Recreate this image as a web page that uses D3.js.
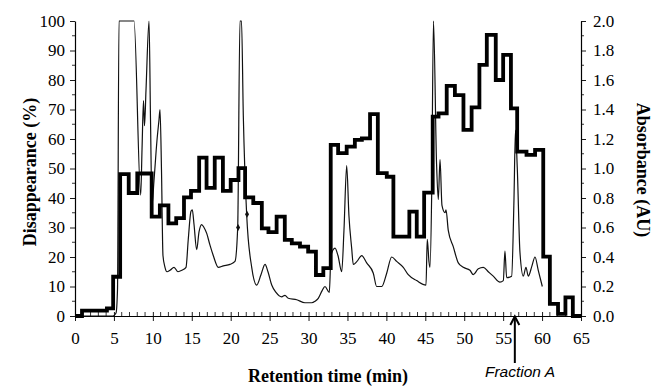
<!DOCTYPE html>
<html><head><meta charset="utf-8">
<script src="https://cdn.jsdelivr.net/npm/d3@7"></script>
<style>
html,body{margin:0;padding:0;background:#fff;}
svg{display:block;}
</style></head>
<body>
<svg id="chart" width="660" height="387"></svg>
<script>
// Fraction start times (min) and disappearance (%) — step series, left axis
const fracStart = [0,0.9,4.1,4.9,5.8,6.9,8.0,9.85,10.9,12.0,13.0,14.0,14.9,15.95,16.9,17.95,19.0,20.0,21.0,21.85,22.9,24.0,24.85,25.9,26.95,27.85,28.9,29.95,30.95,31.9,32.85,33.8,34.9,35.95,36.85,37.9,38.9,40.05,40.9,42.95,43.9,44.85,45.95,46.7,47.75,48.8,49.9,50.95,51.95,52.9,54.05,55.0,56.0,56.8,58.0,59.1,60.15,61.0,62.05,63.0,63.95];
const disappearance = [0,1.8,2.6,13.3,48.1,41.7,48.3,33.7,37.5,31.4,33.2,40.2,42.4,53.7,43.4,53.7,42.4,46.1,50.1,40.2,38.3,29.7,28.4,33.7,25.8,24.6,23.5,21.8,13.9,16.2,58.0,55.2,57.4,59.7,60.2,68.4,48.4,47.2,26.9,35.4,26.9,41.8,67.6,68.7,78.0,74.9,63.1,70.7,85.1,95.3,80.0,88.5,70.4,55.7,54.6,56.3,20.1,4.1,0.7,6.3,0];
const runEnd = 65;

// Absorbance trace (AU) — thin line, right axis
const absTime = [0,4.88,5.27,5.46,5.65,7.58,8.44,8.61,8.80,8.93,9.12,9.51,9.70,9.89,10.15,10.53,10.79,10.92,11.11,11.30,11.56,11.82,12.20,12.72,13.23,13.74,14.26,14.55,14.90,15.07,15.29,15.63,15.93,16.27,16.57,16.92,17.34,17.76,18.41,19.05,19.91,20.55,20.90,21.19,21.39,21.62,22.06,22.70,23.34,23.89,24.41,24.79,25.27,25.82,26.55,26.97,27.40,28.48,29.54,30.40,30.83,31.25,31.73,32.11,32.67,32.88,33.40,33.78,34.26,34.55,34.90,35.19,35.54,35.75,36.22,36.83,37.47,38.32,38.75,39.40,40.04,40.68,41.32,42.17,42.81,43.89,45.09,45.25,45.47,45.60,45.82,46.05,46.44,46.67,46.89,47.14,47.53,47.66,47.95,48.59,49.24,49.88,50.74,51.16,51.81,52.45,53.09,53.73,54.59,55.02,55.23,55.45,56.09,56.39,56.58,56.81,57.16,57.59,57.93,58.23,58.70,59.09,59.51,60.03];
const absorbance = [0,0,0.02,0.18,2.0,2.0,0.82,1.13,1.46,1.29,1.53,2.0,1.33,0.75,0.92,1.19,1.33,1.40,0.99,0.41,0.33,0.30,0.31,0.33,0.30,0.31,0.33,0.52,0.71,0.72,0.62,0.45,0.57,0.62,0.60,0.56,0.48,0.41,0.33,0.34,0.35,0.37,0.60,2.0,2.0,1.36,0.68,0.33,0.21,0.28,0.35,0.30,0.21,0.16,0.13,0.14,0.12,0.11,0.09,0.09,0.10,0.12,0.17,0.20,0.16,0.41,0.46,0.41,0.30,0.58,1.02,0.68,0.46,0.35,0.37,0.41,0.36,0.29,0.20,0.20,0.29,0.40,0.37,0.33,0.28,0.24,0.21,0.52,0.37,0.33,0.83,2.0,1.04,0.79,1.06,0.75,0.70,0.72,0.58,0.47,0.36,0.33,0.31,0.28,0.32,0.33,0.30,0.27,0.23,0.24,0.44,0.26,0.27,0.79,1.26,1.01,0.43,0.27,0.33,0.27,0.34,0.40,0.31,0.20];
const markTime = [20.95, 22.1];
const markAbs = [0.60, 0.69];

const xTicks = [0,5,10,15,20,25,30,35,40,45,50,55,60,65];
const leftTicks = [0,10,20,30,40,50,60,70,80,90,100];
const rightTicks = [0,0.2,0.4,0.6,0.8,1.0,1.2,1.4,1.6,1.8,2.0];
const fractionTime = 56.5;

const svg = d3.select("#chart");
const x = d3.scaleLinear().domain([0,65]).range([75,581]);
const yL = d3.scaleLinear().domain([0,100]).range([316,21]);
const yR = d3.scaleLinear().domain([0,2]).range([316,21]);
const serif = "'Liberation Serif','Times New Roman',serif";

// X axis
const gx = svg.append("g").attr("transform","translate(0,316)");
gx.call(d3.axisBottom(x).tickValues(xTicks).tickSize(5).tickSizeOuter(0).tickPadding(11).tickFormat(d3.format("d")));
gx.selectAll(".tick line").attr("y1",-4);
gx.append("g").selectAll("line").data(d3.range(0,66,1).filter(d=>d%5!==0)).join("line")
  .attr("x1",d=>x(d)).attr("x2",d=>x(d)).attr("y1",0).attr("y2",-4).attr("stroke","#000").attr("stroke-width",0.8);

// Left axis
const gl = svg.append("g").attr("transform","translate(75,0)");
gl.call(d3.axisLeft(yL).tickValues(leftTicks).tickSize(5).tickSizeOuter(0).tickPadding(5).tickFormat(d3.format("d")));
gl.append("g").selectAll("line").data(d3.range(5,100,10)).join("line")
  .attr("x1",0).attr("x2",-3).attr("y1",d=>yL(d)).attr("y2",d=>yL(d)).attr("stroke","#000").attr("stroke-width",0.8);

// Right axis
const gr = svg.append("g").attr("transform","translate(581,0)");
gr.call(d3.axisRight(yR).tickValues(rightTicks).tickSize(5).tickSizeOuter(0).tickPadding(7).tickFormat(d3.format(".1f")));
gr.append("g").selectAll("line").data(d3.range(0.1,2,0.2)).join("line")
  .attr("x1",0).attr("x2",3).attr("y1",d=>yR(d)).attr("y2",d=>yR(d)).attr("stroke","#000").attr("stroke-width",0.8);

svg.selectAll(".tick text").attr("font-family",serif).attr("font-size",17).attr("fill","#000");
svg.selectAll(".domain").attr("stroke","#000").attr("stroke-width",1.2);
svg.selectAll(".tick line").attr("stroke","#000").attr("stroke-width",0.9);

// Absorbance thin line
const absData = absTime.map((t,i)=>[t,absorbance[i]]);
svg.append("path").datum(absData)
  .attr("d", d3.line().curve(d3.curveMonotoneX).x(d=>x(d[0])).y(d=>yR(d[1])))
  .attr("fill","none").attr("stroke","#111").attr("stroke-width",1.2).attr("stroke-linejoin","miter");
svg.append("g").selectAll("path").data(markTime.map((t,i)=>[t,markAbs[i]])).join("path")
  .attr("d", d3.symbol().type(d3.symbolDiamond).size(14))
  .attr("transform", d=>`translate(${x(d[0])},${yR(d[1])})`).attr("fill","#111");

// Disappearance step line
const stepData = fracStart.map((t,i)=>[t,disappearance[i]]);
stepData.push([runEnd, disappearance[disappearance.length-1]]);
svg.append("path").datum(stepData)
  .attr("d", d3.line().curve(d3.curveStepAfter).x(d=>x(d[0])).y(d=>yL(d[1])))
  .attr("fill","none").attr("stroke","#000").attr("stroke-width",3.8).attr("stroke-linejoin","miter");

// Axis titles
svg.append("text").attr("x",328).attr("y",382).attr("text-anchor","middle")
  .attr("font-family",serif).attr("font-weight","bold").attr("font-size",18).text("Retention time (min)");
svg.append("text").attr("transform","translate(30,172) rotate(-90)").attr("text-anchor","middle")
  .attr("dominant-baseline","central")
  .attr("font-family",serif).attr("font-weight","bold").attr("font-size",18).text("Disappearance (%)");
svg.append("text").attr("transform","translate(643,170) rotate(90)").attr("text-anchor","middle")
  .attr("dominant-baseline","central")
  .attr("font-family",serif).attr("font-weight","bold").attr("font-size",18).text("Absorbance (AU)");

// Fraction A arrow
const ax = x(fractionTime);
svg.append("line").attr("x1",ax).attr("x2",ax).attr("y1",363).attr("y2",317).attr("stroke","#000").attr("stroke-width",2);
svg.append("path").attr("d",`M${ax-4.5},${325} L${ax},${316.5} L${ax+4.5},${325}`)
  .attr("fill","none").attr("stroke","#000").attr("stroke-width",2);
svg.append("text").attr("x",520).attr("y",377).attr("text-anchor","middle")
  .attr("font-family","'Liberation Sans',Arial,sans-serif").attr("font-style","italic").attr("font-size",15.5).text("Fraction A");
</script>
</body></html>
